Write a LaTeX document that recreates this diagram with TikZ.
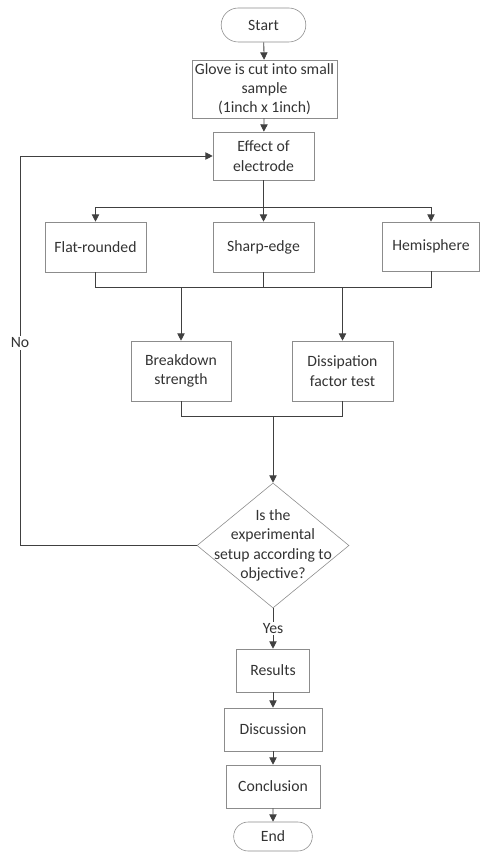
\documentclass[tikz,border=0pt]{standalone}
\usepackage{fontspec}
\setmainfont{Carlito}
\usepackage{tikz}
\usetikzlibrary{arrows.meta,shapes.geometric,shapes.misc}

\begin{document}
\begin{tikzpicture}[
    x=0.03cm, y=-0.03cm,
    font=\fontsize{13.4}{16.5}\selectfont, text=black!80,
    box/.style={rectangle,draw=black!45,line width=0.5pt,align=center,inner sep=1pt},
    term/.style={rounded rectangle,draw=black!45,line width=0.5pt,align=center,inner sep=1pt},
    decide/.style={diamond,draw=black!45,line width=0.5pt,inner sep=0pt},
    line/.style={draw=black!75,line width=0.7pt},
    arrow/.style={line,-{Triangle[length=2.2mm,width=2.2mm]}}
]
\useasboundingbox (0,0) rectangle (480,852);

\node[term, minimum width=2.61cm, minimum height=1.02cm] (start) at (263.5,25) {Start};
\node[box, minimum width=4.35cm, minimum height=1.74cm] (glove) at (264.5,89) {Glove is cut into small\\sample\\(1inch x 1inch)};
\node[box, minimum width=3.03cm, minimum height=1.44cm] (effect) at (263.5,156) {Effect of\\electrode};

\node[box, minimum width=3.03cm, minimum height=1.5cm] (flat) at (95.5,247) {Flat-rounded};
\node[box, minimum width=3.03cm, minimum height=1.5cm] (sharp) at (263.5,247) {Sharp-edge};
\node[box, minimum width=2.91cm, minimum height=1.47cm] (hemi) at (431,246.5) {Hemisphere};

\node[box, minimum width=3.0cm, minimum height=1.8cm] (breakdown) at (181,371) {Breakdown\\strength};
\node[box, minimum width=3.03cm, minimum height=1.8cm] (dissip) at (342.5,371) {Dissipation\\factor test};

\node[decide, minimum width=4.56cm, minimum height=3.75cm,
      label={[align=center,text=black!80]center:Is the\\experimental\\setup according to\\objective?}] (decision) at (273,545.5) {};

\node[box, minimum width=2.19cm, minimum height=1.29cm] (results) at (273,670.5) {Results};
\node[box, minimum width=2.94cm, minimum height=1.29cm] (discussion) at (273,729.5) {Discussion};
\node[box, minimum width=2.82cm, minimum height=1.29cm] (conclusion) at (273,786.5) {Conclusion};
\node[term, minimum width=2.43cm, minimum height=0.87cm] (endnode) at (273,836.5) {End};

\coordinate (split) at (263.5,207);
\coordinate (merge) at (263.5,287);
\coordinate (join) at (273,416);
\coordinate (noturn) at (20,545.5);

\draw[arrow] (start) -- (glove);
\draw[arrow] (glove) -- (effect);
\draw[line] (effect) -- (split);
\draw[arrow] (split) -| (flat);
\draw[arrow] (split) -- (sharp);
\draw[arrow] (split) -| (hemi);
\draw[line] (flat) |- (merge);
\draw[line] (sharp) -- (merge);
\draw[line] (hemi) |- (merge);
\draw[arrow] (breakdown.north |- merge) -- (breakdown);
\draw[arrow] (dissip.north |- merge) -- (dissip);
\draw[line] (breakdown) |- (join);
\draw[line] (dissip) |- (join);
\draw[arrow] (join) -- (decision);
\draw[arrow] (decision) -- (noturn) |- node[pos=0.26,fill=white,inner sep=2pt] {No} (effect);
\draw[arrow] (decision) -- node[fill=white,inner sep=1pt] {Yes} (results);
\draw[arrow] (results) -- (discussion);
\draw[arrow] (discussion) -- (conclusion);
\draw[arrow] (conclusion) -- (endnode);
\end{tikzpicture}
\end{document}
